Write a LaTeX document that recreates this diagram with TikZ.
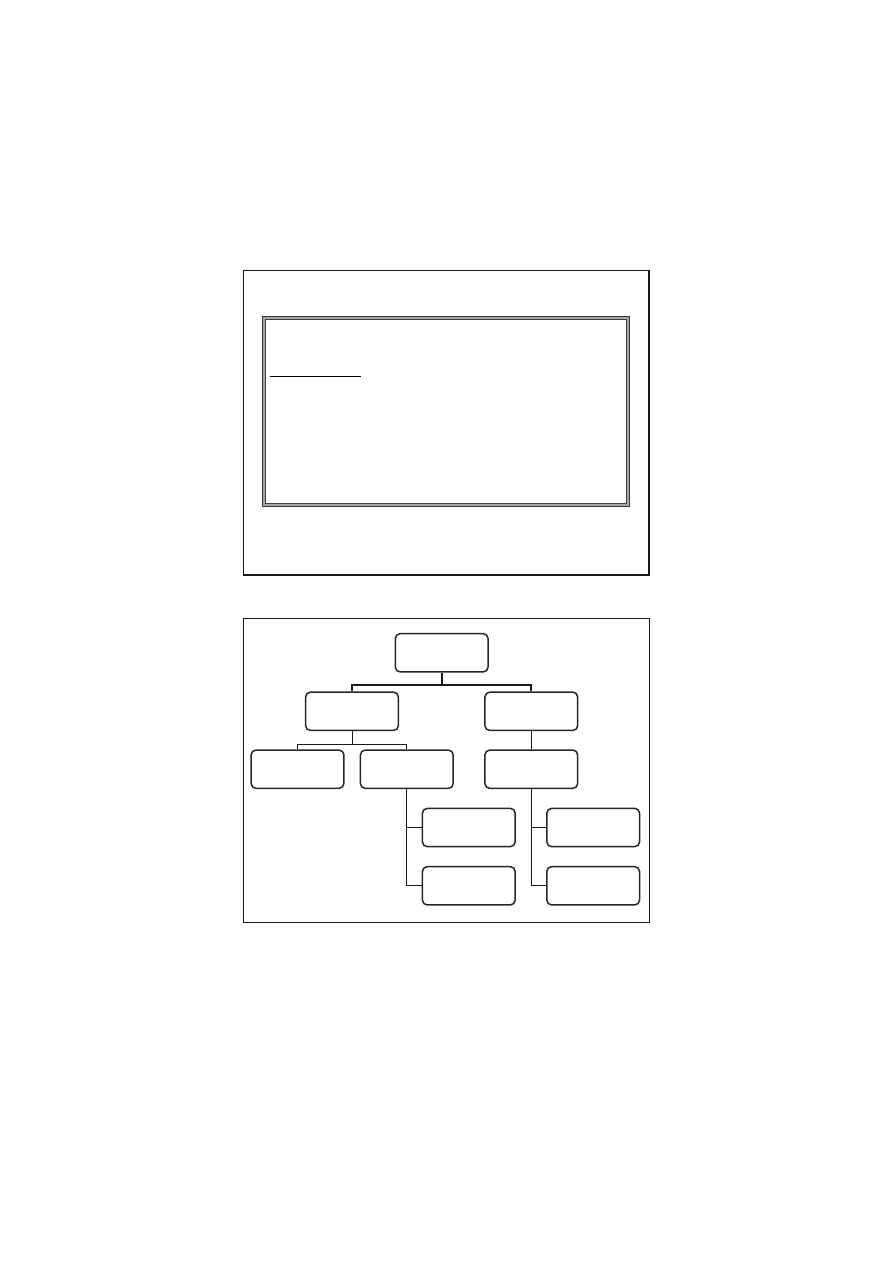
\documentclass[tikz,border=0pt]{standalone}
\usepackage{tikz}
\usetikzlibrary{positioning}
\usetikzlibrary{shapes}

\tikzset{
  slide/.style = {draw = black!90, line width = 0.9pt},
  orgbox/.style = {draw = black!85, line width = 1pt, rounded corners = 3.2pt, fill = white,
                   inner sep = 0pt, minimum width = 2.18cm, minimum height = 0.9cm},
  busthick/.style = {draw = black!90, line width = 1.1pt},
  busthin/.style = {draw = black!90, line width = 0.5pt},
  busmid/.style = {draw = black!90, line width = 0.7pt}
}

\begin{document}
\begin{tikzpicture}[x = 0.0235162cm, y = -0.0235162cm]

\useasboundingbox (0,0) rectangle (893,1263);

\begin{scope}
\draw[slide] (243.5,270.5) rectangle (649,575);
\draw[black!35, line width = 2.2pt] (264.2,318) rectangle (628,505.2);
\draw[black!80, line width = 0.6pt] (262.7,316.7) rectangle (629.3,506.7);
\draw[black!75, line width = 0.6pt] (265.9,319.6) rectangle (626.3,503.6);
\draw[black, line width = 0.7pt] (270,376.7) -- (361,376.7); % underline
\end{scope}

\begin{scope}
\draw[slide] (243.5,618.3) rectangle (649.3,922.3);
\node[orgbox] at (441.7,652.8) (head) {};
\node[orgbox] at (352,711.3) (deptL) {};
\node[orgbox] at (531.3,711.3) (deptR) {};
\node[orgbox] at (297.5,769.2) (unitA) {};
\node[orgbox] at (406.8,769.2) (unitB) {};
\node[orgbox] at (531.3,769.2) (unitC) {};
\node[orgbox] at (468.8,827.5) (subB1) {};
\node[orgbox] at (468.8,885.8) (subB2) {};
\node[orgbox] at (593.2,827.5) (subC1) {};
\node[orgbox] at (593.2,885.8) (subC2) {};
\coordinate (busTop) at (441.7,685.3);
\coordinate (busL) at (352,744.3);

\draw[busthick] (head.south) -- (busTop);
\draw[busthick] (busTop) -| (deptL.north);
\draw[busthick] (busTop) -| (deptR.north);
\draw[busthin] (deptL.south) -- (busL);
\draw[busthin] (busL) -| (unitA.north);
\draw[busthin] (busL) -| (unitB.north);
\draw[busthin] (deptR.south) -- (unitC.north);
\draw[busmid] (unitB.south) |- (subB2.west);
\draw[busmid] (unitB.south |- subB1.west) -- (subB1.west);
\draw[busmid] (unitC.south) |- (subC2.west);
\draw[busmid] (unitC.south |- subC1.west) -- (subC1.west);
\end{scope}

\end{tikzpicture}
\end{document}
